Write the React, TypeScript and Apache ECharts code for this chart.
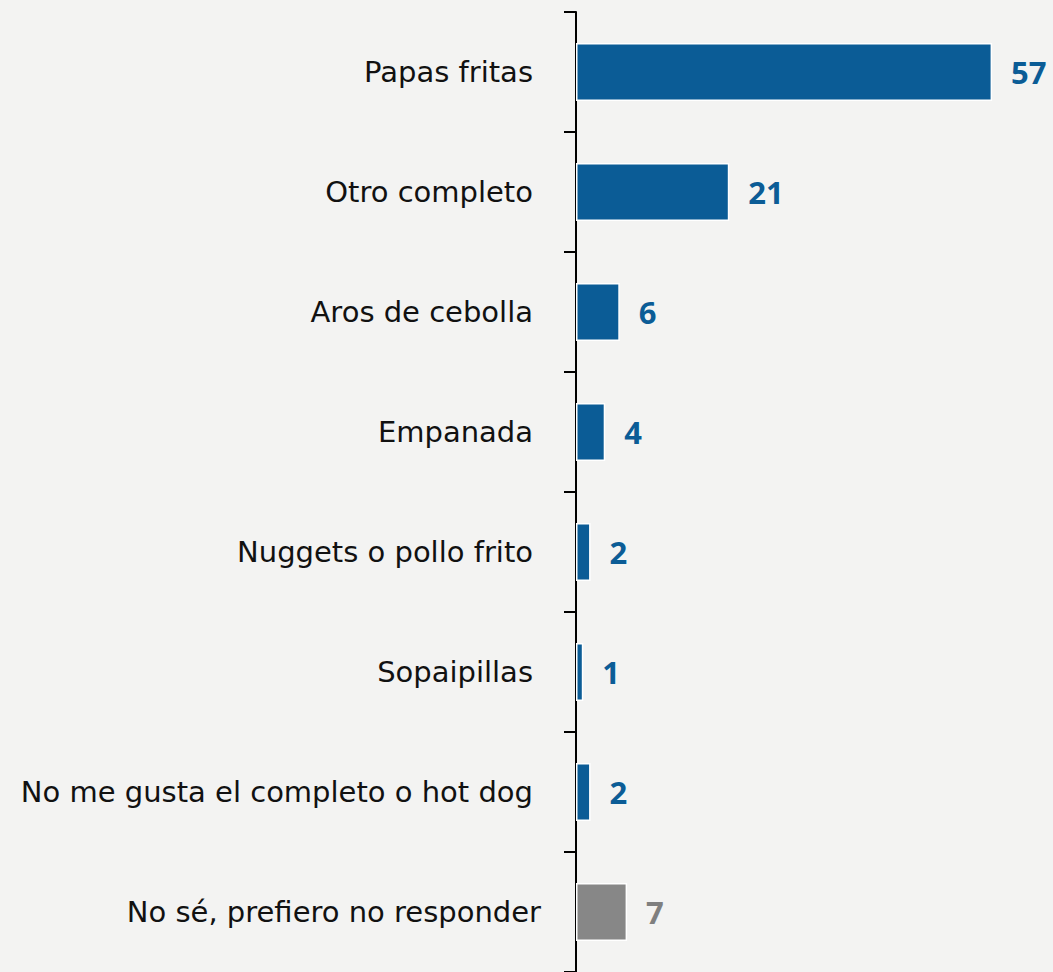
import React, { useEffect, useRef } from "react";
import * as echarts from "echarts";

const categories = [
  "Papas fritas",
  "Otro completo",
  "Aros de cebolla",
  "Empanada",
  "Nuggets o pollo frito",
  "Sopaipillas",
  "No me gusta el completo o hot dog",
  "No sé, prefiero no responder",
];
const values = [57, 21, 6, 4, 2, 1, 2, 7];
const barColors = ["#0b5c96", "#0b5c96", "#0b5c96", "#0b5c96", "#0b5c96", "#0b5c96", "#0b5c96", "#878787"];
const labelColors = ["#0b5c96", "#0b5c96", "#0b5c96", "#0b5c96", "#0b5c96", "#0b5c96", "#0b5c96", "#7f7f7f"];

const FONT = "'DejaVu Sans', sans-serif";
const VFONT = "'Open Sans', 'Noto Sans', sans-serif";

export default function App() {
  const ref = useRef<HTMLDivElement>(null);
  useEffect(() => {
    if (!ref.current) return;
    const chart = echarts.init(ref.current, null, { renderer: "svg" });
    const last = categories[categories.length - 1];
    chart.setOption({
      animation: false,
      backgroundColor: "#f3f3f2",
      grid: { left: 576, right: 2.5, top: 12, bottom: -4, containLabel: false },
      xAxis: {
        type: "value",
        min: 0,
        max: 65,
        show: false,
      },
      yAxis: {
        type: "category",
        data: categories,
        inverse: true,
        axisLine: { show: true, lineStyle: { color: "#000", width: 2 } },
        axisTick: { show: true, length: 12, lineStyle: { color: "#000", width: 2 } },
        axisLabel: {
          margin: 35,
          fontSize: 29,
          color: "#111",
          fontFamily: FONT,
          formatter: (v: string) => (v === last ? `{l|${v}}` : `{n|${v}}`),
          rich: {
            n: { fontSize: 29, fontFamily: FONT, color: "#111", padding: [0, 8, 0, 0] },
            l: { fontSize: 29, fontFamily: FONT, color: "#111", padding: [0, 0, 0, 0] },
          },
        },
      },
      series: [
        {
          type: "bar",
          data: values.map((v, i) => ({
            value: v,
            itemStyle: { color: barColors[i] },
            label: { color: labelColors[i] },
          })),
          barWidth: 58,
          itemStyle: { borderColor: "#ffffff", borderWidth: 1.5 },
          label: {
            show: true,
            position: "right",
            distance: 19,
            fontSize: 31,
            fontWeight: "bold",
            fontFamily: VFONT,
          },
        },
      ],
    });
    return () => chart.dispose();
  }, []);
  return (
    <div
      ref={ref}
      style={{ position: "fixed", left: 0, top: 0, width: 1053, height: 972 }}
    />
  );
}
